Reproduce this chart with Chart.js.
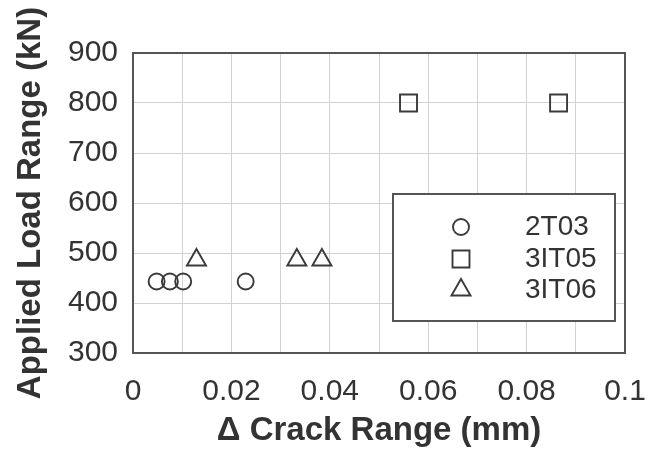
<!DOCTYPE html>
<html>
<head>
<meta charset="UTF-8">
<title>Applied Load Range vs Crack Range</title>
<script src="https://cdn.jsdelivr.net/npm/chart.js"></script>
<style>
  body { margin: 0; background: #fff; }
  #wrap { width: 650px; height: 454px; }
</style>
</head>
<body>
<div id="wrap"><canvas id="myChart"></canvas></div>
<script>
// data
const seriesNames = ['2T03', '3IT05', '3IT06'];
const crack2T03 = [0.0048, 0.0075, 0.0102, 0.0229];
const load2T03 = [443, 443, 443, 443];
const crack3IT05 = [0.056, 0.0865];
const load3IT05 = [800, 800];
const crack3IT06 = [0.0129, 0.0333, 0.0384];
const load3IT06 = [486, 486, 486];

const ink = '#333333';
const markStyles = [
  { pointStyle: 'circle', radius: 8 },
  { pointStyle: 'rect', radius: 12 },
  { pointStyle: 'triangle', radius: 11 }
];

function pts(xs, ys) {
  return xs.map((x, i) => ({ x: x, y: ys[i] }));
}

function makeSet(i, xs, ys) {
  return {
    label: seriesNames[i],
    data: pts(xs, ys),
    pointStyle: markStyles[i].pointStyle,
    pointRadius: markStyles[i].radius,
    pointHoverRadius: markStyles[i].radius,
    pointBorderColor: '#3a3a3a',
    pointBackgroundColor: 'rgba(0,0,0,0)',
    pointBorderWidth: 1.9,
    showLine: false,
    clip: false
  };
}

// plot frame + legend box drawn inside the plot
const framePlugin = {
  id: 'frame',
  beforeDatasetsDraw(chart) {
    const a = chart.chartArea, ctx = chart.ctx;
    ctx.save();
    ctx.strokeStyle = '#555';
    ctx.lineWidth = 2;
    ctx.strokeRect(a.left, a.top, a.right - a.left, a.bottom - a.top);
    ctx.restore();
  },
  afterDraw(chart) {
    const ctx = chart.ctx;
    ctx.save();
    ctx.fillStyle = '#fff';
    ctx.fillRect(393, 194, 222, 127);
    ctx.strokeStyle = '#555';
    ctx.lineWidth = 2;
    ctx.strokeRect(393, 194, 222, 127);
    const rows = [227, 259, 290];
    chart.data.datasets.forEach((ds, i) => {
      ctx.strokeStyle = '#3a3a3a';
      ctx.fillStyle = 'rgba(0,0,0,0)';
      ctx.lineWidth = 1.9;
      Chart.helpers.drawPoint(ctx, {
        pointStyle: ds.pointStyle, radius: ds.pointRadius, borderWidth: 1.9, rotation: 0
      }, 461, rows[i]);
      ctx.fillStyle = ink;
      ctx.font = '28px "Liberation Sans", Arial, sans-serif';
      ctx.textBaseline = 'middle';
      ctx.textAlign = 'left';
      ctx.fillText(ds.label, 525, rows[i]);
    });
    ctx.restore();
  }
};

const tickFont = { family: '"Liberation Sans", Arial, sans-serif', size: 30, lineHeight: 1 };
const titleFont = { family: '"Liberation Sans", Arial, sans-serif', size: 33, weight: 'bold', lineHeight: 1 };

const ctx = document.getElementById('myChart').getContext('2d');
const chart = new Chart(ctx, {
  type: 'scatter',
  data: {
    datasets: [
      makeSet(0, crack2T03, load2T03),
      makeSet(1, crack3IT05, load3IT05),
      makeSet(2, crack3IT06, load3IT06)
    ]
  },
  options: {
    responsive: true,
    maintainAspectRatio: false,
    animation: false,
    layout: { padding: { left: 0, top: 53, right: 25, bottom: 0 } },
    plugins: { legend: { display: false }, tooltip: { enabled: false } },
    scales: {
      x: {
        type: 'linear',
        min: 0,
        max: 0.1,
        grid: { color: '#d2d2d2', lineWidth: 1, drawTicks: false },
        border: { display: false },
        ticks: {
          stepSize: 0.01,
          autoSkip: false,
          maxRotation: 0,
          padding: 24,
          color: ink,
          font: tickFont,
          callback: (v) => {
            const k = Math.round(v * 100);
            return k % 2 ? '' : String(k / 100);
          }
        },
        title: {
          display: true,
          text: '\u0394 Crack Range (mm)',
          color: ink,
          font: titleFont,
          padding: { top: 0, bottom: 7 }
        },
        afterFit(s) {
          s.height = 101;
          s.paddingLeft = 0;
          s.paddingRight = 0;
        }
      },
      y: {
        min: 300,
        max: 900,
        grid: { color: '#d2d2d2', lineWidth: 1, drawTicks: false },
        border: { display: false },
        ticks: { stepSize: 100, padding: 15, color: ink, font: tickFont },
        title: {
          display: true,
          text: 'Applied Load Range (kN)',
          color: ink,
          font: titleFont,
          padding: { top: 14, bottom: 0 }
        },
        afterFit(s) {
          s.width = 133;
          s.paddingTop = 0;
          s.paddingBottom = 0;
        }
      }
    }
  },
  plugins: [framePlugin]
});
</script>
</body>
</html>
